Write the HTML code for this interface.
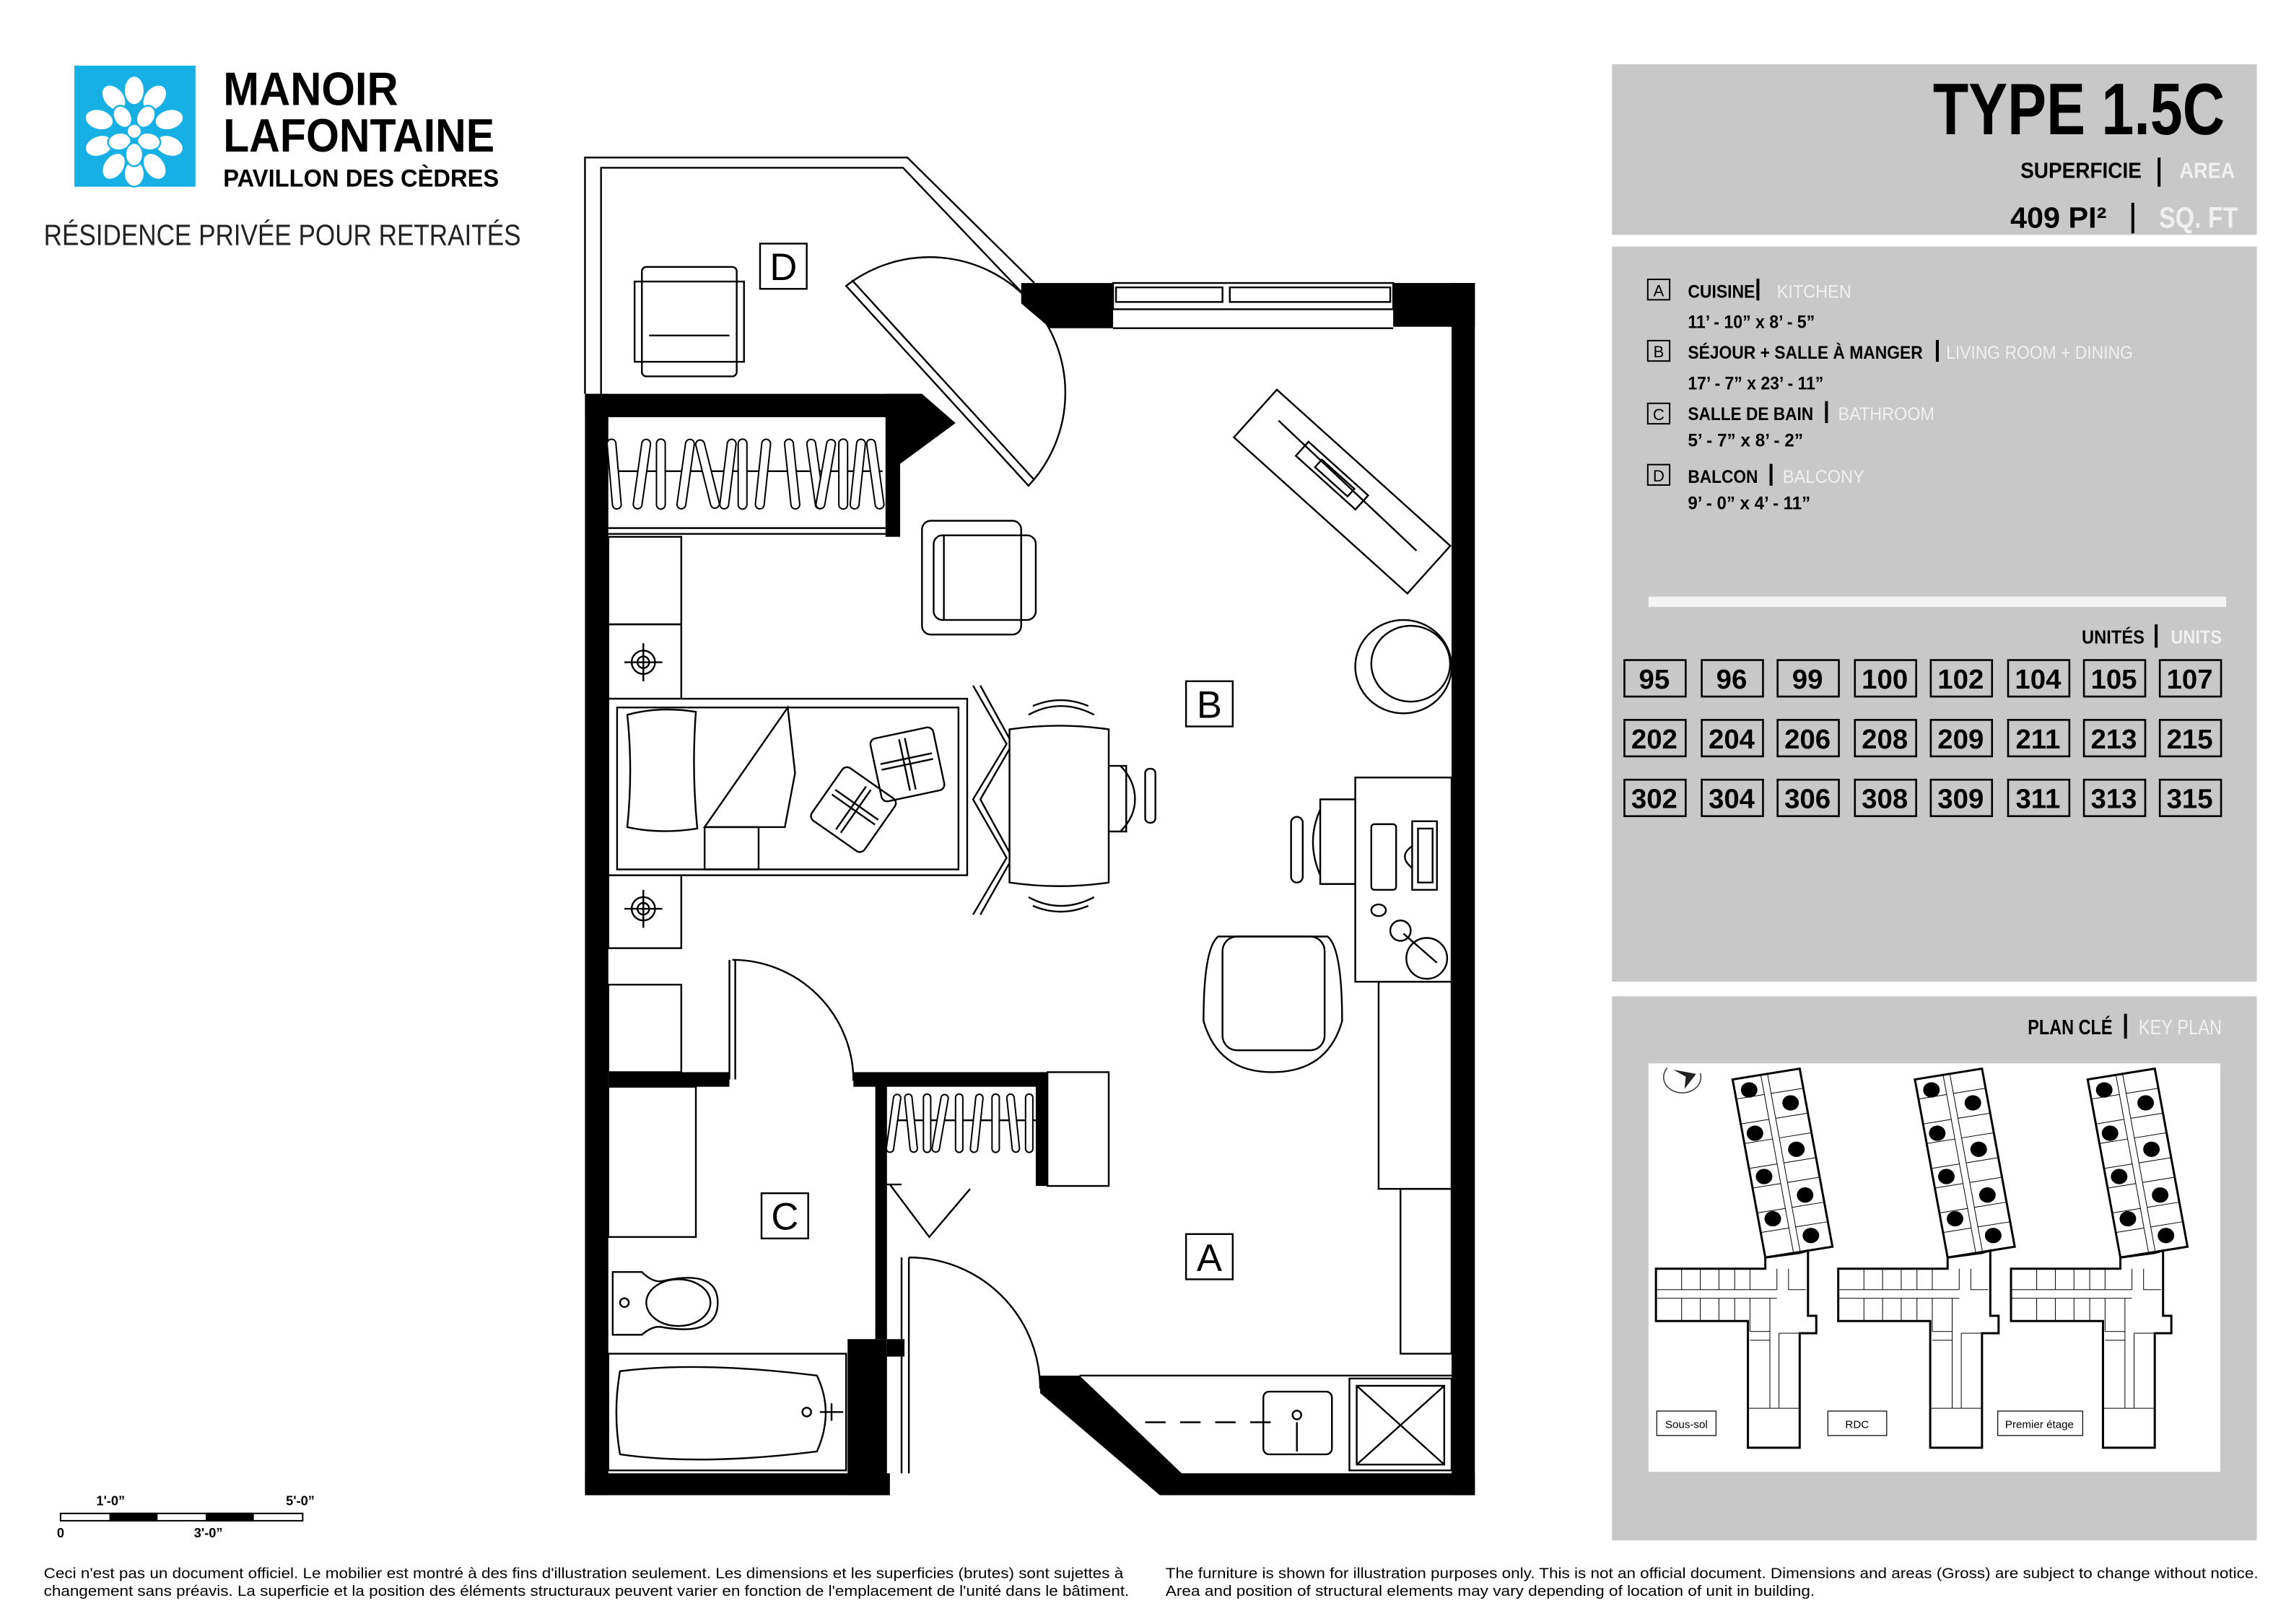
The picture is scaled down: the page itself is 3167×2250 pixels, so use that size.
<!DOCTYPE html>
<html><head><meta charset="utf-8"><style>
html,body{margin:0;padding:0;background:#fff}
svg{display:block}
text{font-family:"Liberation Sans",sans-serif}
.n{font-family:"Liberation Sans Narrow","Liberation Sans",sans-serif}
</style></head><body>
<svg width="3167" height="2250" viewBox="0 0 1567 1113.3" preserveAspectRatio="none" xmlns="http://www.w3.org/2000/svg">
<rect x="0" y="0" width="1567" height="1114" fill="#fff"/>
<!-- LOGO -->
<rect x="51" y="45" width="83" height="83" fill="#17b0e4"/>
<g fill="#fff" stroke="#17b0e4" stroke-width="1.2">
<ellipse cx="92" cy="62" rx="7" ry="10"/><ellipse cx="78" cy="67" rx="7" ry="10" transform="rotate(-40 78 67)"/><ellipse cx="106" cy="67" rx="7" ry="10" transform="rotate(40 106 67)"/>
<ellipse cx="68" cy="82" rx="7" ry="10" transform="rotate(-75 68 82)"/><ellipse cx="116" cy="82" rx="7" ry="10" transform="rotate(75 116 82)"/>
<ellipse cx="68" cy="100" rx="7" ry="10" transform="rotate(-110 68 100)"/><ellipse cx="116" cy="100" rx="7" ry="10" transform="rotate(110 116 100)"/>
<ellipse cx="78" cy="114" rx="7" ry="10" transform="rotate(-145 78 114)"/><ellipse cx="106" cy="114" rx="7" ry="10" transform="rotate(145 106 114)"/>
<ellipse cx="92" cy="119" rx="7" ry="9"/>
<ellipse cx="84" cy="80" rx="6" ry="8" transform="rotate(-30 84 80)"/><ellipse cx="100" cy="80" rx="6" ry="8" transform="rotate(30 100 80)"/>
<ellipse cx="82" cy="97" rx="6" ry="8" transform="rotate(-100 82 97)"/><ellipse cx="102" cy="97" rx="6" ry="8" transform="rotate(100 102 97)"/>
<ellipse cx="92" cy="106" rx="6" ry="8"/><circle cx="92" cy="90" r="5"/>
</g>
<text class="n" x="153" y="72" font-size="32" font-weight="bold" textLength="120" lengthAdjust="spacingAndGlyphs">MANOIR</text>
<text class="n" x="153" y="104" font-size="32" font-weight="bold" textLength="186" lengthAdjust="spacingAndGlyphs">LAFONTAINE</text>
<text x="153" y="128" font-size="17" font-weight="bold" textLength="189" lengthAdjust="spacingAndGlyphs">PAVILLON DES CÈDRES</text>
<text x="30" y="168" font-size="20" fill="#222" textLength="327" lengthAdjust="spacingAndGlyphs">RÉSIDENCE PRIVÉE POUR RETRAITÉS</text>

<!-- RIGHT PANELS -->
<rect x="1105" y="44" width="442" height="117" fill="#c8c8c8"/>
<rect x="1105" y="169" width="442" height="504" fill="#c8c8c8"/>
<rect x="1105" y="683" width="442" height="373" fill="#c8c8c8"/>
<text class="n" x="1525" y="92" font-size="50" font-weight="bold" text-anchor="end" textLength="200" lengthAdjust="spacingAndGlyphs">TYPE 1.5C</text>
<text x="1385" y="122" font-size="15" font-weight="bold" textLength="83" lengthAdjust="spacingAndGlyphs">SUPERFICIE</text>
<rect x="1479" y="108" width="2" height="20" fill="#000"/>
<text x="1494" y="122" font-size="15" font-weight="bold" fill="#f0f0f0" textLength="38" lengthAdjust="spacingAndGlyphs">AREA</text>
<text x="1378" y="156" font-size="20" font-weight="bold" textLength="66" lengthAdjust="spacingAndGlyphs">409  PI²</text>
<rect x="1461" y="139" width="2" height="21" fill="#000"/>
<text x="1480" y="156" font-size="20" font-weight="bold" fill="#f0f0f0" textLength="54" lengthAdjust="spacingAndGlyphs">SQ. FT</text>

<g font-size="12.5" font-weight="bold">
<rect x="1129.5" y="191.5" width="15" height="14" fill="none" stroke="#000"/><text x="1137" y="203" font-size="11" text-anchor="middle" font-weight="normal">A</text>
<text x="1157" y="204" textLength="46" lengthAdjust="spacingAndGlyphs">CUISINE</text><rect x="1204" y="191" width="2" height="15"/>
<text x="1218" y="204" fill="#f0f0f0" font-weight="normal" textLength="51" lengthAdjust="spacingAndGlyphs">KITCHEN</text>
<text x="1157" y="225" textLength="87" lengthAdjust="spacingAndGlyphs">11’ - 10” x 8’ - 5”</text>
<rect x="1129.5" y="233.5" width="15" height="14" fill="none" stroke="#000"/><text x="1137" y="245" font-size="11" text-anchor="middle" font-weight="normal">B</text>
<text x="1157" y="246" textLength="161" lengthAdjust="spacingAndGlyphs">SÉJOUR + SALLE À MANGER</text><rect x="1327" y="233" width="2" height="15"/>
<text x="1334" y="246" fill="#f0f0f0" font-weight="normal" textLength="128" lengthAdjust="spacingAndGlyphs">LIVING ROOM + DINING</text>
<text x="1157" y="267" textLength="93" lengthAdjust="spacingAndGlyphs">17’ - 7” x 23’ - 11”</text>
<rect x="1129.5" y="276.5" width="15" height="14" fill="none" stroke="#000"/><text x="1137" y="288" font-size="11" text-anchor="middle" font-weight="normal">C</text>
<text x="1157" y="288" textLength="86" lengthAdjust="spacingAndGlyphs">SALLE DE BAIN</text><rect x="1251" y="275" width="2" height="15"/>
<text x="1260" y="288" fill="#f0f0f0" font-weight="normal" textLength="66" lengthAdjust="spacingAndGlyphs">BATHROOM</text>
<text x="1157" y="306" textLength="79" lengthAdjust="spacingAndGlyphs">5’ -  7” x 8’ - 2”</text>
<rect x="1129.5" y="318.5" width="15" height="14" fill="none" stroke="#000"/><text x="1137" y="330" font-size="11" text-anchor="middle" font-weight="normal">D</text>
<text x="1157" y="331" textLength="48" lengthAdjust="spacingAndGlyphs">BALCON</text><rect x="1213" y="318" width="2" height="15"/>
<text x="1222" y="331" fill="#f0f0f0" font-weight="normal" textLength="56" lengthAdjust="spacingAndGlyphs">BALCONY</text>
<text x="1157" y="349" textLength="84" lengthAdjust="spacingAndGlyphs">9’ -  0” x 4’ - 11”</text>
</g>
<rect x="1130" y="409" width="396" height="7" fill="#f4f4f4"/>
<text x="1427" y="441" font-size="13" font-weight="bold" textLength="43" lengthAdjust="spacingAndGlyphs">UNITÉS</text>
<rect x="1477" y="428" width="2" height="16"/>
<text x="1488" y="441" font-size="13" font-weight="bold" fill="#f0f0f0" textLength="35" lengthAdjust="spacingAndGlyphs">UNITS</text>
<g font-size="19" font-weight="bold" text-anchor="middle" fill="none" stroke="#000" stroke-width="1.3">
<g id="ub">
<rect x="1113.5" y="452.5" width="42" height="25"/><rect x="1166.5" y="452.5" width="42" height="25"/><rect x="1218.5" y="452.5" width="42" height="25"/><rect x="1271.5" y="452.5" width="42" height="25"/><rect x="1323.5" y="452.5" width="42" height="25"/><rect x="1376.5" y="452.5" width="42" height="25"/><rect x="1428.5" y="452.5" width="42" height="25"/><rect x="1480.5" y="452.5" width="42" height="25"/>
</g>
<use href="#ub" y="41"/><use href="#ub" y="82"/>
</g>
<g font-size="19" font-weight="bold" text-anchor="middle" class="n">
<text x="1134" y="472">95</text><text x="1187" y="472">96</text><text x="1239" y="472">99</text><text x="1292" y="472">100</text><text x="1344" y="472">102</text><text x="1397" y="472">104</text><text x="1449" y="472">105</text><text x="1501" y="472">107</text>
<text x="1134" y="513">202</text><text x="1187" y="513">204</text><text x="1239" y="513">206</text><text x="1292" y="513">208</text><text x="1344" y="513">209</text><text x="1397" y="513">211</text><text x="1449" y="513">213</text><text x="1501" y="513">215</text>
<text x="1134" y="554">302</text><text x="1187" y="554">304</text><text x="1239" y="554">306</text><text x="1292" y="554">308</text><text x="1344" y="554">309</text><text x="1397" y="554">311</text><text x="1449" y="554">313</text><text x="1501" y="554">315</text>
</g>

<!-- KEY PLAN -->
<text class="n" x="1390" y="709" font-size="14" font-weight="bold" textLength="58" lengthAdjust="spacingAndGlyphs">PLAN CLÉ</text>
<rect x="1456" y="695" width="2" height="17"/>
<text class="n" x="1466" y="709" font-size="14" fill="#f0f0f0" textLength="57" lengthAdjust="spacingAndGlyphs">KEY PLAN</text>
<rect x="1130" y="729" width="392" height="280" fill="#fff"/>
<g transform="translate(1108.7,683.05) scale(0.284,0.2393)">
<defs>
<g id="bld">
<g transform="matrix(1.62,-0.31,0.79,5.1,278,238)">
<rect x="0" y="0" width="100" height="100" fill="#fff" stroke="#000" stroke-width="3" vector-effect="non-scaling-stroke"/>
<g stroke="#000" stroke-width="1" fill="none">
<line x1="42" y1="0" x2="42" y2="100" vector-effect="non-scaling-stroke"/><line x1="52" y1="0" x2="52" y2="100" vector-effect="non-scaling-stroke"/>
<path d="M0 11H42M0 25H42M0 36H42M0 50H42M0 61H42M0 75H42M0 86H42M52 11H100M52 25H100M52 36H100M52 50H100M52 61H100M52 75H100M52 86H100" vector-effect="non-scaling-stroke"/>
</g>
</g>
<polygon points="357,748 440,735 460,728 460,915 480,915 480,965 440,965 440,1293 315,1293 315,930 93,930 93,780 357,780" fill="#fff" stroke="#000" stroke-width="3" vector-effect="non-scaling-stroke"/>
<path d="M93 840H385M93 865H385M155 780V840M200 780V840M245 780V840M283 780V840M320 780V840M385 780V840M155 865V930M200 865V930M245 865V930M283 865V930M320 865V960M368 865V1180M390 965V1180M413 780V840H455M320 960H368M320 985H368M390 965H440M315 1180H440" stroke="#000" stroke-width="1" fill="none" vector-effect="non-scaling-stroke"/>
<g fill="#000">
<ellipse cx="318" cy="268" rx="20" ry="22"/><ellipse cx="418" cy="305" rx="20" ry="22"/><ellipse cx="332" cy="392" rx="20" ry="22"/><ellipse cx="432" cy="438" rx="20" ry="22"/><ellipse cx="354" cy="516" rx="20" ry="22"/><ellipse cx="453" cy="569" rx="20" ry="22"/><ellipse cx="375" cy="637" rx="20" ry="22"/><ellipse cx="467" cy="685" rx="20" ry="22"/>
</g>
</g>
</defs>
<use href="#bld"/>
<use href="#bld" x="440"/>
<use href="#bld" x="857"/>
<path d="M120 205 A45 45 0 1 0 200 220" fill="none" stroke="#333" stroke-width="1.5" vector-effect="non-scaling-stroke"/>
<polygon points="135,210 190,222 162,265 165,230" fill="#222"/>
<g fill="#fff" stroke="#000" stroke-width="1.2">
<rect x="95" y="1188" width="143" height="70" vector-effect="non-scaling-stroke"/>
<rect x="508" y="1188" width="142" height="70" vector-effect="non-scaling-stroke"/>
<rect x="918" y="1188" width="205" height="70" vector-effect="non-scaling-stroke"/>
</g>
</g>
<text x="1156" y="979" font-size="7.5" text-anchor="middle">Sous-sol</text>
<text x="1273" y="979" font-size="7.5" text-anchor="middle">RDC</text>
<text x="1398" y="979" font-size="7.5" text-anchor="middle">Premier étage</text>

<!-- SCALE BAR -->
<rect x="41.5" y="1037.5" width="166" height="5" fill="#fff" stroke="#000"/>
<rect x="75" y="1037" width="33" height="6"/><rect x="141" y="1037" width="33" height="6"/>
<g font-size="9" font-weight="bold"><text x="66" y="1032">1'-0”</text><text x="196" y="1032">5'-0”</text><text x="39" y="1054">0</text><text x="133" y="1054">3'-0”</text></g>

<!-- DISCLAIMERS -->
<g font-size="10.2">
<text x="30" y="1082" textLength="740" lengthAdjust="spacingAndGlyphs">Ceci n'est pas un document officiel. Le mobilier est montré à des fins d'illustration seulement. Les dimensions et les superficies (brutes) sont sujettes à</text>
<text x="30" y="1094" textLength="744" lengthAdjust="spacingAndGlyphs">changement sans préavis. La superficie et la position des éléments structuraux peuvent varier en fonction de l'emplacement de l'unité dans le bâtiment.</text>
<text x="799" y="1082" textLength="749" lengthAdjust="spacingAndGlyphs">The furniture is shown for illustration purposes only. This is not an official document. Dimensions and areas (Gross) are subject to change without notice.</text>
<text x="799" y="1094" textLength="445" lengthAdjust="spacingAndGlyphs">Area and position of structural elements may vary depending of location of unit in building.</text>
</g>

<!-- FLOOR PLAN -->
<g fill="none" stroke="#000" stroke-width="1.2">
<path d="M401 270V108H622L709 194"/>
<path d="M412 270V115H619L700 200"/>
<rect x="440" y="183" width="65" height="75" rx="3"/>
<line x1="445" y1="230" x2="500" y2="230"/><rect x="435" y="193" width="75" height="55"/>
<path d="M580 196 A93 93 0 0 1 705 333 Z" fill="#fff"/>
<line x1="584" y1="192" x2="709" y2="329"/>
</g>
<g fill="#000">
<rect x="401" y="270" width="16" height="755"/>
<rect x="401" y="270" width="231" height="16"/>
<polygon points="617,270 632,270 655,290 617,318"/>
<rect x="607" y="270" width="10" height="98"/>
<polygon points="700,194 763,194 763,225 720,225 700,208"/>
<rect x="955" y="194" width="56" height="30"/>
<rect x="995" y="194" width="16" height="831"/>
<rect x="401" y="1010" width="209" height="15"/>
<rect x="581" y="918" width="27" height="107"/>
<rect x="600" y="737" width="8" height="181"/>
<rect x="417" y="735" width="83" height="10"/>
<rect x="585" y="735" width="133" height="10"/>
<rect x="710" y="735" width="8" height="78"/>
<rect x="800" y="1010" width="211" height="15"/>
<polygon points="713,943 740,943 810,1010 810,1025 795,1025 713,955"/>
<rect x="608" y="918" width="12" height="12"/>
</g>
<g fill="none" stroke="#000" stroke-width="1.2">
<rect x="763" y="194" width="192" height="18" fill="#fff"/>
<rect x="765" y="197" width="73" height="10"/><rect x="843" y="197" width="110" height="10"/>
<line x1="763" y1="225" x2="955" y2="225"/>
<line x1="417" y1="362" x2="607" y2="362"/><line x1="417" y1="366" x2="607" y2="366"/>
<line x1="420" y1="323" x2="605" y2="323"/>
<rect x="417" y="368" width="50" height="60"/>
<rect x="417" y="428" width="50" height="51"/>
<rect x="417" y="600" width="50" height="50"/>
<rect x="417" y="675" width="50" height="60"/>
<circle cx="441" cy="454" r="8"/><circle cx="441" cy="454" r="4"/><path d="M428 454H454M441 441V467"/>
<circle cx="441" cy="623" r="8"/><circle cx="441" cy="623" r="4"/><path d="M428 623H454M441 610V636"/>
<rect x="417" y="479" width="246" height="121" fill="#fff"/>
<rect x="423" y="485" width="234" height="111"/>
<path d="M430 490Q452 484 477 488Q474 528 478 568Q452 572 430 567Q434 528 430 490Z"/>
<path d="M483 567L540 485L545 530L538 567Z"/>
<rect x="483" y="567" width="37" height="29"/>
<g transform="rotate(-12 622 524)"><rect x="600" y="502" width="44" height="44" rx="4"/><path d="M604 520H640M604 524H640M620 506V542M624 506V542"/></g>
<g transform="rotate(35 585 555)"><rect x="563" y="533" width="44" height="44" rx="4"/><path d="M567 551H603M567 555H603M583 537V573M587 537V573"/></g>
<path d="M667 470L690 510L667 548L690 588L667 627"/>
<path d="M672 470L694 510L672 548L694 588L672 627"/>
<path d="M692 500Q726 495 760 500V605Q726 610 692 605Z" fill="#fff"/>
<path d="M705 490Q727 478 750 490M708 484Q727 476 746 484"/>
<path d="M705 615Q727 627 750 615M708 621Q727 629 746 621"/>
<path d="M760 525H772V570H760M768 525Q778 535 778 548Q778 560 768 570"/><rect x="785" y="527" width="7" height="37" rx="3"/>
<rect x="632" y="357" width="68" height="78" rx="6"/><rect x="640" y="367" width="70" height="58" rx="6"/><line x1="647" y1="367" x2="647" y2="425"/>
<g transform="rotate(42 920 337)"><rect x="840" y="315" width="160" height="44"/><path d="M855 330L985 333M880 327H935V340H880ZM895 330H925V337H895Z"/></g>
<ellipse cx="962" cy="457" rx="33" ry="32"/><ellipse cx="967" cy="455" rx="27" ry="26"/>
<rect x="929" y="533" width="66" height="140" fill="#fff"/>
<rect x="940" y="565" width="17" height="45" rx="2"/>
<path d="M968 563H985V610H968Z M972 568H982V605H972Z"/><path d="M968 580Q958 587 968 595"/>
<path d="M929 548H905V606H929M905 555Q895 577 905 600"/><rect x="885" y="560" width="8" height="45" rx="4"/>
<ellipse cx="945" cy="624" rx="5" ry="4"/><circle cx="960" cy="638" r="7"/><circle cx="978" cy="657" r="14"/><path d="M962 640L985 660"/>
<path d="M835 642H910Q920 650 920 700Q910 735 872 735Q835 735 825 700Q825 650 835 642Z"/>
<rect x="838" y="642" width="70" height="78" rx="10"/>
<rect x="945" y="673" width="50" height="142"/>
<rect x="960" y="815" width="35" height="113"/>
<path d="M740 943H995" />
<path d="M785 975H880" stroke-dasharray="14 10"/>
<rect x="866" y="954" width="47" height="43" rx="4"/><circle cx="889" cy="970" r="3"/><path d="M889 975V995"/>
<rect x="925" y="945" width="70" height="63"/><rect x="930" y="950" width="60" height="54"/><path d="M930 950L990 1004M990 950L930 1004"/>
<path d="M500 658V740M504 658V740"/>
<path d="M502 658 A83 83 0 0 1 585 741"/>
<line x1="610" y1="768" x2="710" y2="768"/>
<rect x="718" y="735" width="42" height="78"/>
<path d="M610 812L637 848L665 815M608 812H618"/>
<path d="M618 862V1010M623 862V1010"/>
<path d="M623 862 A90 90 0 0 1 713 952"/>
<rect x="417" y="745" width="60" height="103"/>
<path d="M420 872H440Q448 880 455 878Q492 870 492 893Q492 916 455 910Q448 908 440 915H420Z"/><ellipse cx="465" cy="893" rx="22" ry="16"/><circle cx="428" cy="893" r="3"/>
<rect x="417" y="928" width="163" height="80"/>
<path d="M425 940Q480 933 560 943Q572 968 560 995Q480 1005 425 997Q420 968 425 940Z"/>
<circle cx="553" cy="968" r="3"/><path d="M562 968H578M570 962V974"/>
</g>
<g fill="#fff" stroke="#000" stroke-width="1">
<rect x="418" y="301" width="6" height="48" rx="3" transform="rotate(-5 421 325)"/>
<rect x="437" y="301" width="6" height="48" rx="3" transform="rotate(8 440 325)"/>
<rect x="450" y="301" width="6" height="48" rx="3"/>
<rect x="467" y="301" width="6" height="48" rx="3" transform="rotate(8 470 325)"/>
<rect x="482" y="301" width="6" height="48" rx="3" transform="rotate(-14 485 325)"/>
<rect x="496" y="301" width="6" height="48" rx="3" transform="rotate(7 499 325)"/>
<rect x="506" y="301" width="6" height="48" rx="3"/>
<rect x="520" y="301" width="6" height="48" rx="3" transform="rotate(6 523 325)"/>
<rect x="540" y="301" width="6" height="48" rx="3" transform="rotate(-6 543 325)"/>
<rect x="556" y="301" width="6" height="48" rx="3" transform="rotate(-8 559 325)"/>
<rect x="563" y="301" width="6" height="48" rx="3" transform="rotate(10 566 325)"/>
<rect x="575" y="301" width="6" height="48" rx="3"/>
<rect x="585" y="301" width="6" height="48" rx="3" transform="rotate(6 588 325)"/>
<rect x="597" y="301" width="6" height="48" rx="3" transform="rotate(-8 600 325)"/>
<rect x="610" y="750" width="5" height="40" rx="2.5" transform="rotate(8 612 770)"/>
<rect x="622" y="750" width="5" height="40" rx="2.5" transform="rotate(-6 624 770)"/>
<rect x="633" y="750" width="5" height="40" rx="2.5"/>
<rect x="642" y="750" width="5" height="40" rx="2.5" transform="rotate(10 644 770)"/>
<rect x="655" y="750" width="5" height="40" rx="2.5"/>
<rect x="667" y="750" width="5" height="40" rx="2.5" transform="rotate(6 669 770)"/>
<rect x="680" y="750" width="5" height="40" rx="2.5"/>
<rect x="692" y="750" width="5" height="40" rx="2.5" transform="rotate(-6 694 770)"/>
<rect x="703" y="750" width="5" height="40" rx="2.5"/>
</g>
<g fill="#fff" stroke="#000" stroke-width="1.2">
<rect x="521" y="167" width="32" height="31"/><rect x="813" y="467" width="32" height="31"/><rect x="522" y="818" width="32" height="31"/><rect x="813" y="846" width="32" height="31"/>
</g>
<g font-size="26" text-anchor="middle">
<text x="537" y="192">D</text><text x="829" y="492">B</text><text x="538" y="843">C</text><text x="829" y="871">A</text>
</g>
</svg>
</body></html>
